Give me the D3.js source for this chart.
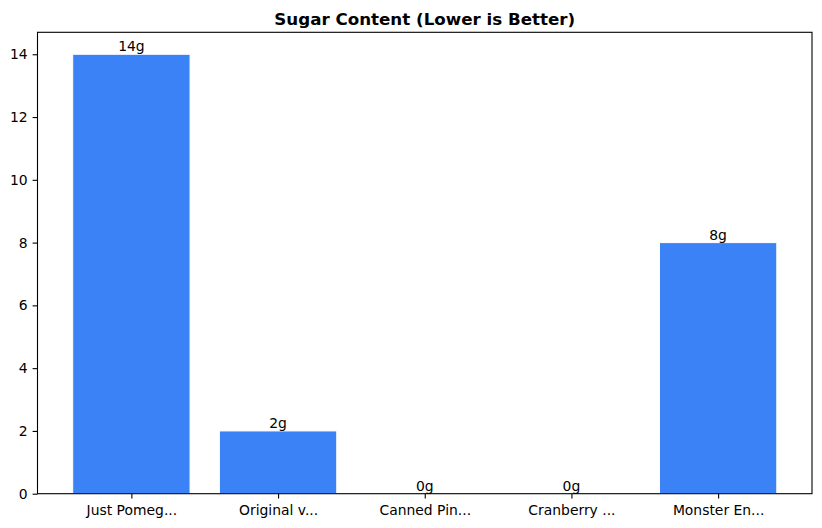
<!DOCTYPE html>
<html><head><meta charset="utf-8">
<script src="https://cdn.jsdelivr.net/npm/d3@7"></script>
<style>body{margin:0;background:#fff}text{font-family:"DejaVu Sans",sans-serif}</style>
</head><body><svg id="c" width="822" height="528"></svg>
<script>
const categories = ["Just Pomeg...", "Original v...", "Canned Pin...", "Cranberry ...", "Monster En..."];
const sugar = [14, 2, 0, 0, 8];
const valueLabels = ["14g", "2g", "0g", "0g", "8g"];
const yTicks = [0, 2, 4, 6, 8, 10, 12, 14];
const title = "Sugar Content (Lower is Better)";

const svg = d3.select("#c");
const L = 37.5, R = 812, T = 32.3, B = 493.7;
const x = d3.scaleLinear().domain([-0.64, categories.length - 1 + 0.64]).range([L, R]);
const y = d3.scaleLinear().domain([0, 14.7]).range([B, T]);
const bw = x(0.8) - x(0);

svg.append("g").selectAll("rect").data(sugar).join("rect")
  .attr("x", (d, i) => x(i) - bw / 2)
  .attr("y", d => y(d))
  .attr("width", bw)
  .attr("height", d => y(0) - y(d))
  .attr("fill", "#3b82f6")
  .attr("stroke", "#ffffff")
  .attr("stroke-width", 1);

svg.append("g").selectAll("text").data(sugar).join("text")
  .attr("x", (d, i) => x(i))
  .attr("y", d => y(d) - 3)
  .attr("text-anchor", "middle")
  .attr("font-size", "13.9px")
  .attr("fill", "#000")
  .text((d, i) => valueLabels[i]);

const xAxis = d3.axisBottom(x).tickValues(d3.range(categories.length))
  .tickFormat(i => categories[i]).tickSize(4.9).tickPadding(6.5);
const gx = svg.append("g").attr("transform", `translate(0,${B})`).call(xAxis);
const yAxis = d3.axisLeft(y).tickValues(yTicks).tickSize(4.9).tickPadding(4.9);
const gy = svg.append("g").attr("transform", `translate(${L},0)`).call(yAxis);
[gx, gy].forEach(g => {
  g.select(".domain").remove();
  g.selectAll("text").attr("font-size", "13.9px").attr("fill", "#000").attr("font-family", "DejaVu Sans");
  g.selectAll("line").attr("stroke", "#000").attr("stroke-width", 1.1);
});

svg.append("rect").attr("x", L).attr("y", T).attr("width", R - L).attr("height", B - T)
  .attr("fill", "none").attr("stroke", "#000").attr("stroke-width", 1.1);

svg.append("text").attr("x", (L + R) / 2).attr("y", 25).attr("text-anchor", "middle")
  .attr("font-size", "16.7px").attr("font-weight", "bold").attr("fill", "#000").text(title);
</script></body></html>
